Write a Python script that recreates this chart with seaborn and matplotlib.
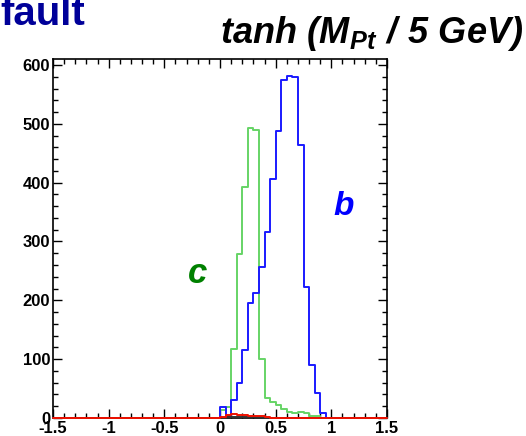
import numpy as np
import pandas as pd
import seaborn as sns
import matplotlib.pyplot as plt
from matplotlib.ticker import MultipleLocator, FuncFormatter

# histogram contents, bins of width 0.05 starting at 0
bin_lo = [0.00, 0.05, 0.10, 0.15, 0.20, 0.25, 0.30, 0.35, 0.40, 0.45,
          0.50, 0.55, 0.60, 0.65, 0.70, 0.75, 0.80, 0.85, 0.90, 0.95]
b_counts = [18, 4, 30, 60, 116, 195, 213, 256, 316, 406,
            488, 575, 582, 580, 464, 223, 90, 42, 9, 0]
c_counts = [13, 18, 117, 278, 393, 493, 490, 101, 34, 27,
            22, 16, 11, 9, 10, 8, 3, 3, 0, 0]
light_counts = [0, 1, 1, 1, 1, 1, 1, 1, 0, 0,
                0, 0, 0, 0, 0, 0, 0, 0, 0, 0]
red_counts = [1, 5, 6, 5, 5, 4, 4, 3, 1, 0,
              0, 0, 0, 0, 0, 0, 0, 0, 0, 0]

sns.set_style('ticks')
plt.rcParams['font.family'] = ['Liberation Sans', 'DejaVu Sans']
plt.rcParams['font.weight'] = 'bold'
plt.rcParams['text.color'] = 'black'
plt.rcParams['axes.unicode_minus'] = False
plt.rcParams['mathtext.fontset'] = 'custom'
plt.rcParams['mathtext.bfit'] = 'Liberation Sans:bold:italic'
plt.rcParams['mathtext.it'] = 'Liberation Sans:bold:italic'
plt.rcParams['mathtext.rm'] = 'Liberation Sans:bold:italic'

df = pd.DataFrame({'x': np.array(bin_lo) + 0.025,
                   'b': b_counts, 'c': c_counts,
                   'light': light_counts, 'red': red_counts})
edges = [round(-1.5 + 0.05 * i, 4) for i in range(61)]

fig = plt.figure(figsize=(5.26, 4.36), dpi=100)
ax = fig.add_axes([0.1008, 0.0413, 0.635, 0.8245])

for col, colr in [('c', '#66d466'), ('b', '#1a1aff'), ('light', '#333333'), ('red', '#ee1100')]:
    sns.histplot(data=df, x='x', weights=col, bins=edges, element='step',
                 fill=False, color=colr, linewidth=1.4, ax=ax)

for art in ax.lines + list(ax.collections):
    art.set_clip_on(False)
    art.set_zorder(3)

ax.set_xlim(-1.5, 1.5)
ax.set_ylim(0, 611)
ax.set_xlabel('')
ax.set_ylabel('')

ax.xaxis.set_major_locator(MultipleLocator(0.5))
ax.xaxis.set_minor_locator(MultipleLocator(0.1))
ax.yaxis.set_major_locator(MultipleLocator(100))
ax.yaxis.set_minor_locator(MultipleLocator(20))
fmt = FuncFormatter(lambda v, p: '%g' % v)
ax.xaxis.set_major_formatter(fmt)
ax.yaxis.set_major_formatter(fmt)
ax.tick_params(which='both', direction='in', top=True, right=True,
               labelsize=12, width=1.0, color='black', labelcolor='black')
ax.tick_params(which='major', length=6.5, pad=2)
ax.tick_params(which='minor', length=3.5)
for lab in ax.get_xticklabels() + ax.get_yticklabels():
    lab.set_fontweight('bold')
for s in ax.spines.values():
    s.set_linewidth(1.2)
    s.set_color('black')

ax.text(1.02, 345, 'b', fontsize=24, style='italic', fontweight='bold', color='#0000ff')
ax.text(-0.29, 229, 'c', fontsize=25, style='italic', fontweight='bold', color='#008000')

fig.text(523 / 526, 1 - 43 / 436, r'$\mathbfit{tanh\ (M_{Pt}\ /\ 5\ GeV)}$',
         ha='right', va='baseline', fontsize=26, color='black')
fig.text(0.0, 1 - 25 / 436, 'fault', ha='left', va='baseline', fontsize=29,
         fontweight='bold', color='#000099')

fig.savefig('out.png', dpi=100)
